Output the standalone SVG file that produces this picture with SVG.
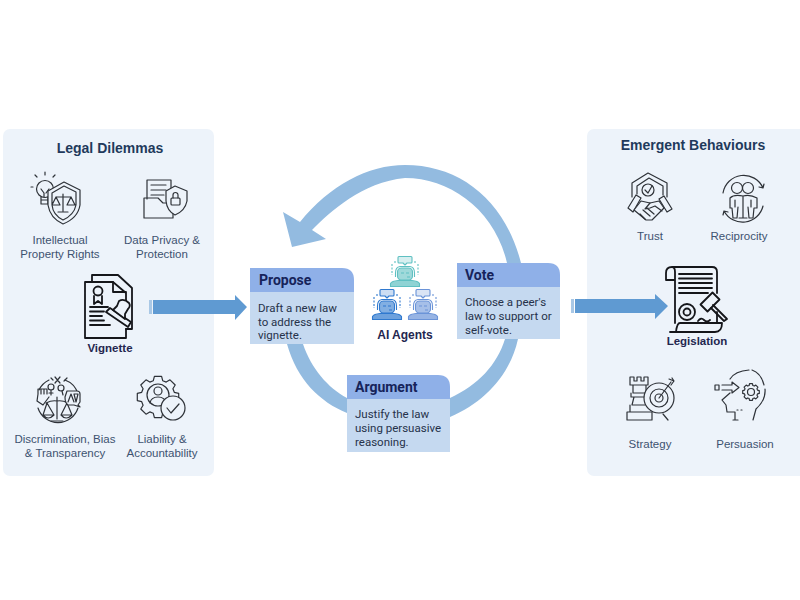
<svg xmlns="http://www.w3.org/2000/svg" width="800" height="600" viewBox="0 0 800 600">
<style>
.panel{fill:#edf3fa}
.ttl{font:bold 14px "Liberation Sans",Arial,sans-serif;fill:#1f3a5c;text-anchor:middle}
.lbl{font:11.500px "Liberation Sans",Arial,sans-serif;fill:#3d5270;text-anchor:middle}
.key{font:bold 11.500px "Liberation Sans",Arial,sans-serif;fill:#24264f;text-anchor:middle}
.hd{font:bold 14px Roboto,"Liberation Sans",sans-serif;fill:#16235a}
.tx{font:11.500px Roboto,"Liberation Sans",sans-serif;fill:#26324a}
.hdr{fill:#8fb0e8}.bdy{fill:#c5d9f0}
.ring{fill:#93bbe0}
.ic{fill:none;stroke:#2e3238;stroke-width:1.200;stroke-linejoin:round;stroke-linecap:round}
.ik{fill:none;stroke:#15161a;stroke-width:1.800;stroke-linejoin:round;stroke-linecap:round}
.ar{fill:#5f9ad2}
</style>
<defs>
<path id="gear" vector-effect="non-scaling-stroke" d="M174.300 392.300L178.700 393.400V400.600L174.300 401.700L172.900 405.200L175.200 409L170 414.200L166.200 411.900L162.700 413.300L161.600 417.700H154.400L153.300 413.300L149.800 411.900L146 414.200L140.800 409L143.100 405.200L141.700 401.700L137.300 400.600V393.400L141.700 392.300L143.100 388.800L140.800 385L146 379.800L149.800 382.100L153.300 380.700L154.400 376.300H161.600L162.700 380.700L166.200 382.100L170 379.800L175.200 385L172.900 388.800Z"/>
<g id="robot" fill="none" stroke="currentColor" stroke-width="1.100" stroke-linejoin="round">
<path d="M9 0.500H21Q22 0.500 22 1.500V6Q22 7 21 7H17L15 9L13 7H9Q8 7 8 6V1.500Q8 0.500 9 0.500Z" fill="currentColor" fill-opacity=".25"/>
<rect x="7.500" y="12" width="15" height="12" rx="4" fill="currentColor" fill-opacity=".6"/>
<path d="M5.500 21V17Q5.500 11 10 10.500H20Q24.500 11 24.500 17V21M11 17H14M16 17H19M17 21H20"/>
<path d="M2 8V19M28 8V19M5 5V8M25 5V8" stroke-dasharray="2 1.500"/>
<path d="M0.500 30.500V27.500Q2 25 8 24.500H22Q28 25 29.500 27.500V30.500Z" fill="currentColor" fill-opacity=".7"/>
</g>
</defs>
<rect width="800" height="600" fill="#fff"/>
<g id="legal-dilemmas">
<rect class="panel" x="3" y="129" width="211" height="347" rx="7"/>
<text class="ttl" x="110" y="153">Legal Dilemmas</text>
</g>
<g id="emergent-behaviours">
<rect class="panel" x="587" y="129" width="220" height="347" rx="7"/>
<text class="ttl" x="693" y="150">Emergent Behaviours</text>
</g>
<g id="connectors">
<path class="ring" d="M521 263C505 200 460 165 405 165C368 165 330 185 300 222L283 212L292 247L326 239L312 230C330 212 362 182 405 178C450 178 495 210 507 263Z"/>
<path class="ring" d="M287 344C297 380 320 402 347 413V398C328 388 311 368 303 344Z"/>
<path class="ring" d="M518 339C510 375 485 402 450 417V398C478 385 497 365 505 339Z"/>
<path class="ar" d="M153 300H235V295L247 307L235 320V314H153Z"/>
<path fill="#a9c8e6" d="M149 300H152V314H149Z"/>
<path class="ar" d="M575 299H655V294L668 306L655 319V313H575Z"/>
<path fill="#a9c8e6" d="M571 299H574V313H571Z"/>
</g>
<g id="propose">
<path class="bdy" d="M250 291H354V344H250Z"/>
<path class="hdr" d="M250 268H342Q354 268 354 280V292H250Z"/>
<text class="hd" x="259" y="285">Propose</text>
<text class="tx" x="258" y="312">Draft a new law</text>
<text class="tx" x="258" y="325.500">to address the</text>
<text class="tx" x="258" y="339">vignette.</text>
</g>
<g id="vote">
<path class="bdy" d="M457 286H560V339H457Z"/>
<path class="hdr" d="M457 263H548Q560 263 560 275V287H457Z"/>
<text class="hd" x="465" y="280">Vote</text>
<text class="tx" x="465" y="306">Choose a peer's</text>
<text class="tx" x="465" y="320">law to support or</text>
<text class="tx" x="465" y="334">self-vote.</text>
</g>
<g id="argument">
<path class="bdy" d="M347 398H450V452H347Z"/>
<path class="hdr" d="M347 375H438Q450 375 450 387V399H347Z"/>
<text class="hd" x="355" y="392">Argument</text>
<text class="tx" x="355" y="418">Justify the law</text>
<text class="tx" x="355" y="432">using persuasive</text>
<text class="tx" x="355" y="446">reasoning.</text>
</g>
<g id="ai-agents">
<use href="#robot" x="390" y="256" color="#5fc0c2"/>
<use href="#robot" x="372" y="289" color="#2f79cf"/>
<use href="#robot" x="408" y="289" color="#6b94d8"/>
<text class="key" x="405" y="339" style="font-size:12px">AI Agents</text>
</g>
<g id="ip-rights">
<circle class="ic" cx="45" cy="189" r="8.500"/>
<path class="ic" d="M41 197V204H48V197M41 200H48M41 189L44 193V197M49 189L46 193M33 187H31M37 177L35 175M45 175V172M53 177L55 175"/>
<path class="ic" style="fill:#edf3fa" d="M48 191L64 182L80 190V205Q78 218 63 224Q50 218 48 205Z"/>
<path class="ic" d="M52 193L64 186L76 192V205Q74 215 63 220Q53 215 52 205ZM63 194V211M56 197H71M56 197L52 205H60ZM71 197L67 205H75ZM58 212H68"/>
<text class="lbl" x="60" y="244">Intellectual</text>
<text class="lbl" x="60" y="258">Property Rights</text>
</g>
<g id="data-privacy">
<path class="ic" d="M147 199V180H171V188M151 185H166M151 190H166M151 195H164"/>
<path class="ic" d="M144 218V198H158L163 203H173V218Z"/>
<path class="ic" style="fill:#edf3fa" d="M166 191L175 186L187 191V201Q185 211 175 215Q167 211 166 201Z"/>
<rect class="ic" x="171" y="198" width="9" height="7" rx="1"/>
<path class="ic" d="M173 198V195A2.500 2.500 0 0 1 178 195V198"/>
<text class="lbl" x="162" y="244">Data Privacy &amp;</text>
<text class="lbl" x="162" y="258">Protection</text>
</g>
<g id="vignette">
<path class="ik" d="M92 282V275H118L132 288V329H126"/>
<path class="ik" d="M126 293V306M126 329V338H85V282H113L126 293"/>
<path class="ik" d="M113 282V292H126"/>
<circle class="ik" cx="98" cy="291" r="4.500"/>
<path class="ik" d="M94 296V304L98 301L102 304V296"/>
<path class="ik" d="M90 307H108M90 311.500H104M90 316H102M90 320.500H104M90 325H110"/>
<path class="ik" style="fill:#edf3fa" d="M106 312L110 308L131 322L128 327Z"/>
<path class="ik" style="fill:#edf3fa" d="M113 310L117 306L119 301Q124 298 129 303Q131 306 128 309L125 314L125 319Z"/>
<text class="key" x="110" y="352">Vignette</text>
</g>
<g id="discrimination">
<path class="ic" d="M39 390A21 21 0 0 1 49 380M65 380A21 21 0 0 1 78 394M78 408A21 21 0 0 1 38 408"/>
<path class="ic" d="M57 397V419M51 421H63M46 403Q52 400 57 401Q62 400 68 403M47 403L43 415H54ZM67 403L61 415H72ZM43 415Q48 421 54 415M61 415Q66 421 72 415"/>
<circle class="ic" cx="51" cy="387" r="3"/>
<circle class="ic" cx="61" cy="388" r="3"/>
<path class="ic" d="M55 377L60 383M60 377L55 383M51 390V395M49 393H53M62 391L63 395M64 381L67 378M51 378L53 380"/>
<path class="ic" style="fill:#edf3fa" d="M67 391H77Q80 391 80 394V402L78 405L80 407L74 405H68Q65 403 65 397Z"/>
<path class="ic" d="M68 402L71 394L74 402M74 394H78L76 402Z"/>
<path class="ic" d="M38 394V389H47V394M41 389V394M44 389V394M38 394L37 401L43 405L49 397"/>
<text class="lbl" x="65" y="443">Discrimination, Bias</text>
<text class="lbl" x="65" y="457">&amp; Transparency</text>
</g>
<g id="liability">
<use href="#gear" class="ic"/>
<circle class="ic" cx="158" cy="395" r="11"/>
<circle class="ic" cx="158" cy="391" r="4"/>
<path class="ic" d="M150 403Q151 397 158 397Q165 397 166 403"/>
<circle class="ic" style="fill:#edf3fa" cx="173" cy="408" r="12"/>
<path class="ic" d="M167 408L171 413L179 404"/>
<text class="lbl" x="162" y="443">Liability &amp;</text>
<text class="lbl" x="162" y="457">Accountability</text>
</g>
<g id="trust">
<path class="ic" d="M632 197V183L648 173L667 183V197"/>
<path class="ic" d="M637 194V186L649 178L663 186V195"/>
<circle class="ic" cx="648" cy="190" r="6"/>
<path class="ic" d="M645 190L648 193L652 186"/>
<path class="ic" d="M628 208L636 195L641 198L633 212ZM672 209L664 196L659 199L667 212Z"/>
<path class="ic" style="fill:#edf3fa" d="M634 210L646 220H652L664 208L659 201L650 203L641 201Z"/>
<path class="ic" d="M640 214L645 219M643 210L650 216M647 208L654 214M650 203L645 209L650 208L655 206L662 211"/>
<text class="lbl" x="650" y="240">Trust</text>
</g>
<g id="reciprocity">
<path class="ic" d="M723 193A21 21 0 0 1 763 188M763 206A21 21 0 0 1 724 211M763 188L764 184M763 188L759 187M724 211L723 215M724 211L728 212"/>
<circle class="ic" cx="737" cy="188" r="5.500"/>
<circle class="ic" cx="748" cy="188" r="5.500"/>
<path class="ic" d="M733 218L732 208H730V198Q734 194 743 196Q750 194 757 198V208H754L753 218H749L748 207M738 207L737 218H733M743 196V218H739M743 218H747M735 200V207M751 200V207"/>
<text class="lbl" x="739" y="240">Reciprocity</text>
</g>
<g id="legislation">
<path class="ik" d="M672 267H712Q717 267 717 272V293M672 267Q666 267 666 273V280H675V272Q675 267 672 267M675 280V323M717 312V323"/>
<path class="ik" d="M679 274H712M679 278.500H712M679 283H712M679 288H712M679 293H708"/>
<circle class="ik" cx="687" cy="312" r="8"/>
<circle class="ik" cx="687" cy="312" r="3.500"/>
<path class="ik" d="M698 321Q701 317 704 320T710 320M672 332H715Q722 332 722 323H680Q677 323 676 332M670 332H676"/>
<path class="ik" style="fill:#edf3fa" d="M700.500 304.500L707.500 311.500L719.500 299.500L712.500 292.500Z"/>
<path class="ik" d="M713 305L727 319L724 321L711 308"/>
<text class="key" x="697" y="345">Legislation</text>
</g>
<g id="strategy">
<path class="ic" d="M630 377V385H648V377H644V381H641V377H637V381H634V377ZM633 385V393H646V385M631 393V397H648M634 397L632 405H645M630 405V412H648M627 420V412H652V420Z"/>
<circle class="ic" cx="659" cy="398" r="15" style="fill:#edf3fa"/>
<circle class="ic" cx="659" cy="398" r="9"/>
<circle class="ic" cx="659" cy="398" r="4"/>
<path class="ic" d="M659 398L671 382M669 379L674 381L671 385M672 378L674 381M663 414L668 420"/>
<text class="lbl" x="650" y="448">Strategy</text>
</g>
<g id="persuasion">
<path class="ic" d="M730 379Q735 371 749 370M752 370Q761 373 764 385M765 389Q766 400 756 409L753 420M730 393L722 400L726 405L727 412H735V420M733 420H738"/>
<path class="ic" d="M715 385H719V390H715ZM722 385H732V382L739 387.500L732 393V390H722"/>
<use href="#gear" class="ic" transform="translate(751 392) scale(.4) translate(-158 -397)"/>
<circle class="ic" cx="751" cy="392" r="3.500"/>
<path class="ic" d="M737 410H738M741 410H742"/>
<text class="lbl" x="745" y="448">Persuasion</text>
</g>
</svg>
